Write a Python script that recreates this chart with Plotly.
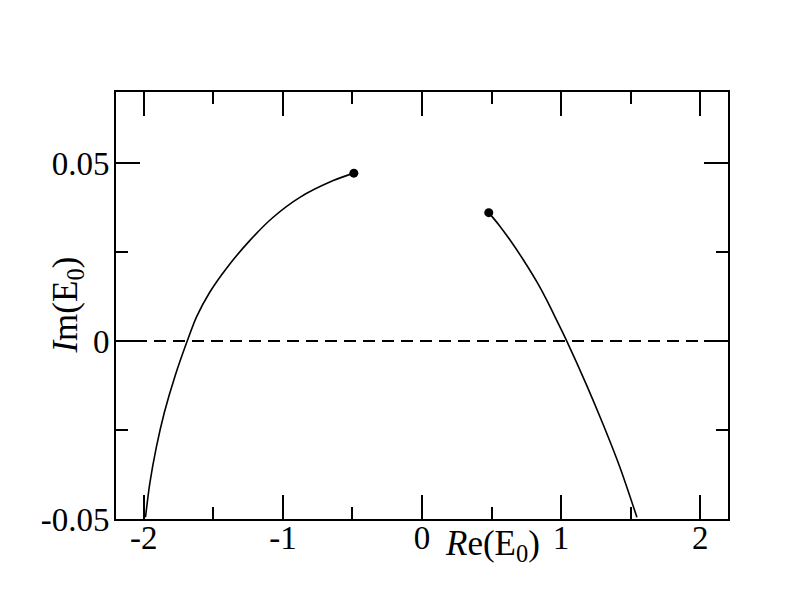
import plotly.graph_objects as go

# Left branch: Re(E0), Im(E0)
left_re = [-1.988, -1.957, -1.911, -1.852, -1.777, -1.688, -1.621, -1.525, -1.405, -1.237, -1.070, -0.878, -0.638, -0.49]
left_im = [-0.0495, -0.040, -0.030, -0.020, -0.010, 0.0, 0.0068, 0.0138, 0.0205, 0.0283, 0.0348, 0.0404, 0.0451, 0.0472]

# Right branch
right_re = [0.48, 0.56, 0.633, 0.729, 0.825, 0.897, 0.969, 1.041, 1.185, 1.304, 1.424, 1.545]
right_im = [0.0361, 0.0323, 0.0284, 0.0228, 0.0167, 0.0115, 0.0058, 0.0, -0.0125, -0.0236, -0.0356, -0.0495]

# End points (dots)
dot_re = [-0.49, 0.48]
dot_im = [0.0472, 0.0361]

# Reference line
ref_re = [-2.2, 2.2]
ref_im = [0.0, 0.0]

x_ticks = [-2, -1, 0, 1, 2]
x_ticklabels = ["-2", "-1", "0", "1", "2"]
y_ticks = [-0.05, 0, 0.05]
y_ticklabels = ["-0.05", "0", "0.05"]

FONT = "Liberation Serif"

fig = go.Figure()
fig.add_trace(go.Scatter(x=ref_re, y=ref_im, mode="lines",
                         line=dict(color="black", width=2, dash="12px,7px"),
                         showlegend=False, hoverinfo="skip"))
fig.add_trace(go.Scatter(x=left_re, y=left_im, mode="lines",
                         line=dict(color="black", width=1.6, shape="spline", smoothing=0.8),
                         showlegend=False))
fig.add_trace(go.Scatter(x=right_re, y=right_im, mode="lines",
                         line=dict(color="black", width=1.6, shape="spline", smoothing=0.8),
                         showlegend=False))
fig.add_trace(go.Scatter(x=dot_re, y=dot_im, mode="markers",
                         marker=dict(color="black", size=9),
                         showlegend=False))

axis_common = dict(
    showgrid=False, zeroline=False, showline=True, linecolor="black", linewidth=2,
    mirror="allticks", ticks="inside", ticklen=24, tickwidth=2, tickcolor="black",
    tickfont=dict(family=FONT, size=33, color="black"),
    minor=dict(ticks="inside", ticklen=12, tickwidth=2, tickcolor="black", showgrid=False),
)

fig.update_xaxes(range=[-2.2, 2.2], tickvals=x_ticks, ticktext=x_ticklabels,
                 minor_dtick=0.5, minor_tick0=0, ticklabelstandoff=-12, **axis_common)
fig.update_yaxes(range=[-0.05, 0.07], tickvals=y_ticks, ticktext=y_ticklabels,
                 minor_dtick=0.025, minor_tick0=0, ticklabelstandoff=-2, **axis_common)

fig.add_annotation(text="<i>R</i>e(E<sub>0</sub>)", xref="paper", yref="paper",
                   x=0.615, y=-0.008, xanchor="center", yanchor="top", showarrow=False,
                   font=dict(family=FONT, size=35, color="black"))
fig.add_annotation(text="<i>I</i>m(E<sub>0</sub>)", xref="paper", yref="paper",
                   x=-0.08, y=0.5, xanchor="center", yanchor="middle", showarrow=False,
                   textangle=-90, font=dict(family=FONT, size=35, color="black"))

fig.update_layout(width=792, height=612, plot_bgcolor="white", paper_bgcolor="white",
                  margin=dict(l=108, r=72, t=84, b=101))
fig.write_html("out.html")
